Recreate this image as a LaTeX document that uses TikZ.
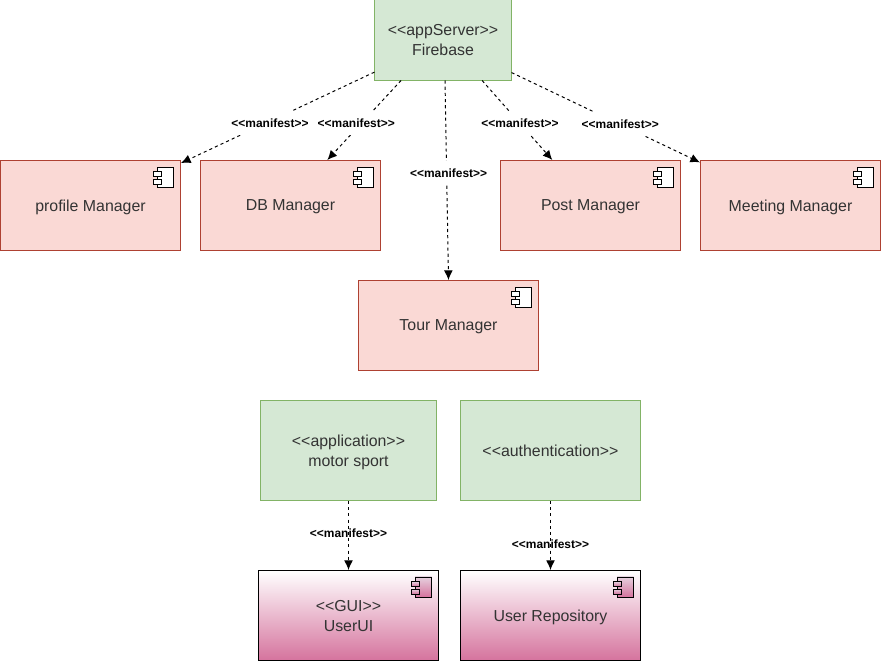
\documentclass[tikz,border=0pt]{standalone}
\usepackage{fontspec}
\setmainfont{Liberation Sans}
\usetikzlibrary{arrows.meta}
\definecolor{GreenFill}{HTML}{D5E8D4}
\definecolor{GreenLine}{HTML}{82B366}
\definecolor{RedFill}{HTML}{FAD9D5}
\definecolor{RedLine}{HTML}{AE4132}
\definecolor{Pink}{HTML}{D5739D}
\definecolor{PinkLight}{HTML}{E6D0DE}
\definecolor{Ink}{HTML}{333333}

% small component symbol in the top right corner of a box
\newcommand{\compicon}[2]{%
  \draw[icon,#2] ([xshift=-0.6cm,yshift=-0.175cm]#1.north east) rectangle ([xshift=-0.1875cm,yshift=-0.675cm]#1.north east);
  \draw[icon,#2] ([xshift=-0.7cm,yshift=-0.2875cm]#1.north east) rectangle ([xshift=-0.5cm,yshift=-0.4125cm]#1.north east);
  \draw[icon,#2] ([xshift=-0.7cm,yshift=-0.475cm]#1.north east) rectangle ([xshift=-0.5cm,yshift=-0.6cm]#1.north east);
}

\begin{document}
\begin{tikzpicture}[x=0.025cm,y=-0.025cm,
    greenbox/.style={draw=GreenLine,fill=GreenFill,line width=0.7pt,text=Ink,
      font=\fontsize{11.3pt}{14.2pt}\selectfont,align=center,inner sep=0pt,text depth=0pt},
    comp/.style={draw=RedLine,fill=RedFill,line width=0.7pt,text=Ink,
      minimum width=4.5cm,minimum height=2.25cm,
      font=\fontsize{11.3pt}{14.2pt}\selectfont,align=center,inner sep=0pt,text depth=0pt},
    pinkcomp/.style={comp,draw=black,top color=white,bottom color=Pink},
    icon/.style={draw=black,line width=0.7pt,fill=white},
    pinkicon/.style={top color=PinkLight,bottom color=Pink},
    manifest/.style={-{Latex[length=2.4mm,width=2.2mm]},line width=0.7pt,
      dash pattern=on 2.2pt off 2.2pt},
    mlabel/.style={fill=white,font=\fontsize{8.5pt}{10pt}\selectfont\bfseries,
      inner xsep=0pt,inner ysep=0pt,minimum height=0.6cm},
    mtext/.style={font=\fontsize{8.5pt}{10pt}\selectfont\bfseries,inner sep=0pt}
  ]
  \useasboundingbox (0,0) rectangle (881,661);

  \node[greenbox,minimum width=3.4cm,minimum height=2cm] (firebase) at (443,40) {<{}<appServer>{}>\\Firebase};

  \node[comp] (profile) at (90.5,205.5) {profile Manager};
  \node[comp] (db) at (290.5,205.5) {DB Manager};
  \node[comp] (post) at (590.5,205.5) {Post Manager};
  \node[comp] (meeting) at (790.5,205.5) {Meeting Manager};
  \node[comp] (tour) at (448.5,325.5) {Tour Manager};

  \node[greenbox,minimum width=4.4cm,minimum height=2.5cm] (motor) at (348.5,450.5) {<{}<application>{}>\\motor sport};
  \node[greenbox,minimum width=4.5cm,minimum height=2.5cm] (auth) at (550.5,450.5) {<{}<authentication>{}>};

  \node[pinkcomp] (userui) at (348.5,615.5) {<{}<GUI>{}>\\UserUI};
  \node[pinkcomp] (userrepo) at (550.5,615.5) {User Repository};

  \compicon{profile}{}
  \compicon{db}{}
  \compicon{post}{}
  \compicon{meeting}{}
  \compicon{tour}{}
  \compicon{userui}{pinkicon}
  \compicon{userrepo}{pinkicon}

  \draw[manifest] (firebase) -- node[mlabel,pos=0.54,yshift=-0.05cm] {<{}<manifest>{}>} (profile);
  \draw[manifest] (firebase.224) -- node[mlabel,pos=0.54,xshift=-0.125cm] {<{}<manifest>{}>} (db.51);
  \draw[manifest] ([xshift=0.05cm]firebase.south) -- node[mlabel,pos=0.465,xshift=0.05cm] {<{}<manifest>{}>} (tour.north);
  \draw[manifest] (firebase.314) -- node[mlabel,pos=0.54] {<{}<manifest>{}>} (post.130);
  \draw[manifest] (firebase) -- node[mlabel,pos=0.577] {<{}<manifest>{}>} (meeting);

  \draw[manifest] (motor.south) -- node[mtext,pos=0.47] {<{}<manifest>{}>} (userui.north);
  \draw[manifest] (auth.south) -- node[mtext,pos=0.62] {<{}<manifest>{}>} (userrepo.north);
\end{tikzpicture}
\end{document}
